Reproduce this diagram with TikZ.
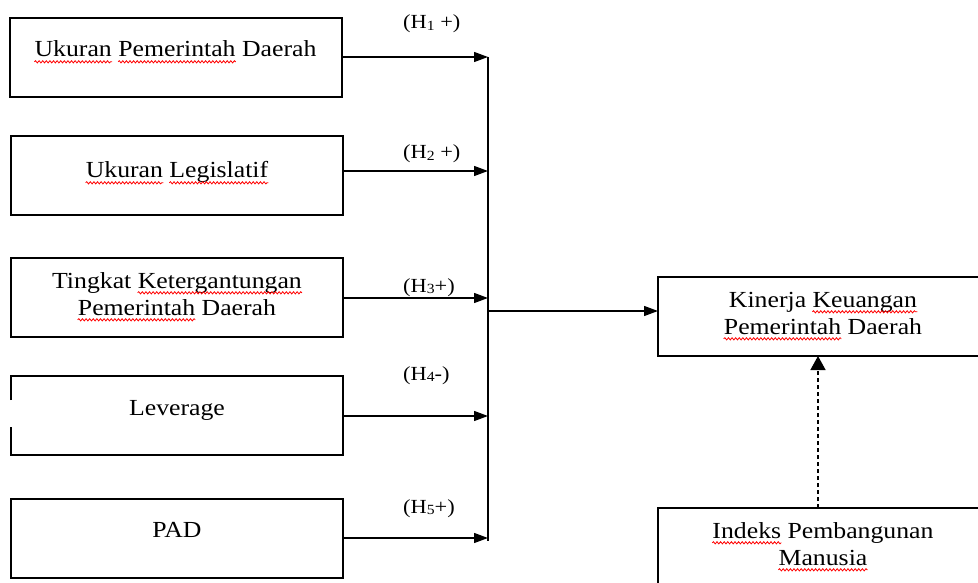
\documentclass[tikz,border=0pt]{standalone}
\usepackage{fontspec}
\setmainfont{Liberation Serif}[FakeStretch=1.12]
\usetikzlibrary{arrows.meta,decorations.pathmorphing}
\newcommand\sq[1]{\tikz[baseline=(w.base)]{\node[inner sep=0pt, anchor=base] (w) at (0,0) {#1};
  \draw[overlay, red, line width=0.8pt, decorate, decoration={snake, amplitude=1.1pt, segment length=3.6pt}] ([yshift=-4.8pt]w.base west) -- ([yshift=-4.8pt]w.base east);}}
\newcommand\hsub[1]{\raisebox{-1.5pt}{\fontsize{14}{14}\selectfont #1}}
\tikzset{
  box/.style={draw, line width=1.1pt, minimum width=332pt, minimum height=79pt, inner sep=0pt, outer sep=0pt, anchor=north west},
  txt/.style={font=\fontsize{23}{27}\selectfont, inner sep=0pt, anchor=base, align=center},
  lbl/.style={font=\fontsize{20}{24}\selectfont, inner sep=0pt, anchor=base west},
  bus/.style={line width=1.3pt},
  arr/.style={line width=1.3pt, -{Triangle[length=14pt,width=10pt]}},
  dasharr/.style={line width=1.5pt, dash pattern=on 4pt off 3pt, -{Triangle[length=14pt,width=15pt]}}
}
\begin{document}
\begin{tikzpicture}[x=1pt,y=-1pt]
\useasboundingbox (0,0) rectangle (978,583);
% left boxes
\node[box] (b1) at (10,18) {};
\node[box] (b2) at (11,136) {};
\node[box] (b3) at (11,258) {};
\node[box, draw=none] (b4) at (11,376) {};
\draw[line width=1.1pt] ([yshift=-24pt]b4.north west) -- (b4.north west) -- (b4.north east) -- (b4.south east) -- (b4.south west) -- ([yshift=28pt]b4.south west);
\node[box] (b5) at (11,499) {};
% right boxes
\node[box, minimum width=330pt] (kin) at (658,277) {};
\node[box, minimum width=330pt] (ind) at (658,508) {};
% texts (base = baseline of the last line)
\node[txt] (t1) at (175.5,57) {\sq{Ukuran} \sq{Pemerintah} Daerah};
\node[txt] (t2) at (177,178) {\sq{Ukuran} \sq{Legislatif}};
\node[txt] (t3) at (177,315) {Tingkat \sq{Ketergantungan}\\\sq{Pemerintah} Daerah};
\node[txt] (t4) at (177,415) {Leverage};
\node[txt] (t5) at (177,537) {PAD};
\node[txt] (t6) at (823,334) {Kinerja \sq{Keuangan}\\\sq{Pemerintah} Daerah};
\node[txt] (t7) at (823,565) {\sq{Indeks} Pembangunan\\\sq{Manusia}};
% hypothesis labels
\node[lbl] (h1) at (403,29) {(H\hsub{1} +)};
\node[lbl] (h2) at (403,159) {(H\hsub{2} +)};
\node[lbl] (h3) at (403,292) {(H\hsub{3}+)};
\node[lbl] (h4) at (403,380) {(H\hsub{4}-)};
\node[lbl] (h5) at (403,513) {(H\hsub{5}+)};
% junctions on the bus
\coordinate (j1) at (488,57);
\coordinate (j2) at (488,171);
\coordinate (j3) at (488,298);
\coordinate (j4) at (488,416);
\coordinate (j5) at (488,538);
\coordinate (jb) at (488,541);
\coordinate (jo) at (488,311);
% connectors
\draw[arr] (b1.east |- j1) -- (j1);
\draw[arr] (b2.east |- j2) -- (j2);
\draw[arr] (b3.east |- j3) -- (j3);
\draw[arr] (b4.east |- j4) -- (j4);
\draw[arr] (b5.east |- j5) -- (j5);
\draw[bus] (j1) -- (jb);
\draw[arr] (jo) -- (kin.west |- jo);
\draw[dasharr] ([xshift=-5pt]ind.north) -- ([xshift=-5pt]kin.south);
\end{tikzpicture}
\end{document}
